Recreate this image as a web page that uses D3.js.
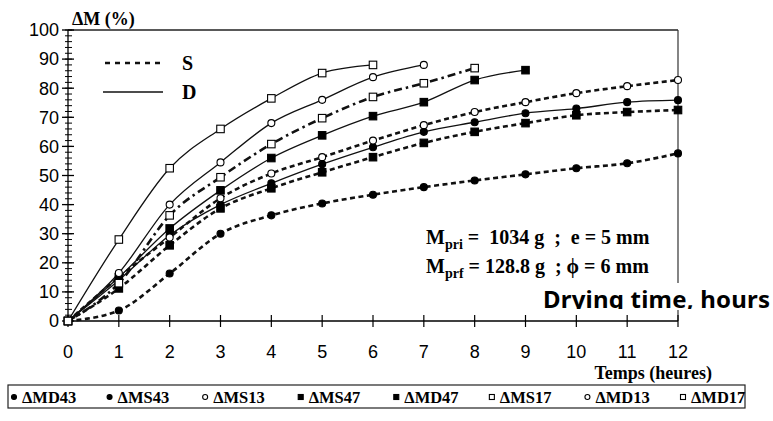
<!DOCTYPE html>
<html><head><meta charset="utf-8">
<script src="https://cdn.jsdelivr.net/npm/d3@7/dist/d3.min.js"></script>
<style>body{margin:0;background:#fff}svg{display:block}text{white-space:pre}</style>
</head><body>
<svg id="c" width="773" height="421"></svg>
<script>
// ---- data ----
const hours = [0,1,2,3,4,5,6,7,8,9,10,11,12];
const xTicks = [0,1,2,3,4,5,6,7,8,9,10,11,12];
const yTicks = [0,10,20,30,40,50,60,70,80,90,100];
const MD17 = [0, 28, 52.5, 66, 76.5, 85.2, 88];
const MD13 = [0, 16.5, 40, 54.5, 68, 76, 83.8, 88];
const MS17 = [0, 13, 36.3, 49.4, 60.8, 69.7, 77, 81.7, 86.9];
const MD47 = [0, 15, 31.8, 44.9, 56, 63.8, 70.4, 75.2, 82.8, 86.2];
const MS13 = [0, 15, 28.7, 42.2, 50.7, 56.3, 62, 67.3, 71.8, 75.2, 78.3, 80.7, 82.8];
const MD43 = [0, 14, 29.5, 40, 47.3, 53.9, 59.7, 65, 68.3, 71.4, 73, 75.2, 75.9];
const MS47 = [0, 11.2, 26, 38.7, 45.6, 51.1, 56.3, 61.2, 65, 68, 70.7, 71.8, 72.5];
const MS43 = [0, 3.6, 16.3, 30, 36.3, 40.4, 43.4, 46, 48.3, 50.4, 52.5, 54.2, 57.6];
const legendNames = ["ΔMD43","ΔMS43","ΔMS13","ΔMS47","ΔMD47","ΔMS17","ΔMD13","ΔMD17"];

const series = [
  {name:"ΔMS43", values:MS43, style:"S", marker:"circle", fill:"#000"},
  {name:"ΔMS47", values:MS47, style:"S", marker:"square", fill:"#000"},
  {name:"ΔMD43", values:MD43, style:"D", marker:"circle", fill:"#000"},
  {name:"ΔMS13", values:MS13, style:"S", marker:"circle", fill:"#fff"},
  {name:"ΔMD47", values:MD47, style:"D", marker:"square", fill:"#000"},
  {name:"ΔMS17", values:MS17, style:"DD", marker:"square", fill:"#fff"},
  {name:"ΔMD13", values:MD13, style:"D", marker:"circle", fill:"#fff"},
  {name:"ΔMD17", values:MD17, style:"D", marker:"square", fill:"#fff"}
];
const legendMarker = {"ΔMD43":["circle","#000"],"ΔMS43":["circle","#000"],"ΔMS13":["circle","#fff"],"ΔMS47":["square","#000"],"ΔMD47":["square","#000"],"ΔMS17":["square","#fff"],"ΔMD13":["circle","#fff"],"ΔMD17":["square","#fff"]};

const svg = d3.select("#c");
const x = d3.scaleLinear().domain([0,12]).range([68,678]);
const y = d3.scaleLinear().domain([0,100]).range([321,30]);
const serif = "'Liberation Serif','Times New Roman',serif";
const sans = "'Liberation Sans',Arial,sans-serif";

// frame
svg.append("line").attr("x1",x(0)).attr("x2",x(12)).attr("y1",y(100)).attr("y2",y(100)).attr("stroke","#222").attr("stroke-width",1.3);
svg.append("line").attr("x1",x(12)).attr("x2",x(12)).attr("y1",y(100)).attr("y2",y(0)).attr("stroke","#333").attr("stroke-width",1.2);

// y axis
const ya = svg.append("g").attr("transform",`translate(${x(0)},0)`);
ya.append("line").attr("y1",y(0)).attr("y2",y(100)).attr("stroke","#000").attr("stroke-width",1.3);
const minor = d3.range(0,100.1,2);
ya.selectAll("line.mn").data(minor).join("line").attr("class","mn")
  .attr("x1",-3).attr("x2",4).attr("y1",d=>y(d)).attr("y2",d=>y(d)).attr("stroke","#000").attr("stroke-width",1);
ya.selectAll("line.mj").data(yTicks).join("line").attr("class","mj")
  .attr("x1",-6).attr("x2",6).attr("y1",d=>y(d)).attr("y2",d=>y(d)).attr("stroke","#000").attr("stroke-width",1.3);
ya.selectAll("text").data(yTicks).join("text").attr("x",-9).attr("y",d=>y(d)).attr("dy","0.35em")
  .attr("text-anchor","end").attr("font-family",sans).attr("font-size",18).text(d=>d);

// x axis
const xa = svg.append("g").attr("transform",`translate(0,${y(0)})`);
xa.append("line").attr("x1",x(0)).attr("x2",x(12)).attr("stroke","#000").attr("stroke-width",1.3);
xa.selectAll("line.t").data(xTicks).join("line").attr("class","t")
  .attr("x1",d=>x(d)).attr("x2",d=>x(d)).attr("y1",-6).attr("y2",6).attr("stroke","#000").attr("stroke-width",1.2);
xa.selectAll("text").data(xTicks).join("text").attr("x",d=>x(d)).attr("y",37)
  .attr("text-anchor","middle").attr("font-family",sans).attr("font-size",18).text(d=>d);

svg.append("text").attr("x",72).attr("y",25).attr("font-family",serif).attr("font-weight","bold").attr("font-size",18).text("ΔM (%)");
svg.append("text").attr("x",x(12)+34).attr("y",379).attr("text-anchor","end").attr("font-family",serif).attr("font-weight","bold").attr("font-size",18).text("Temps (heures)");

// lines
const line = d3.line().x((d,i)=>x(hours[i])).y(d=>y(d)).curve(d3.curveMonotoneX);
const styleOf = s => s==="S" ? {w:2.6,dash:"5,3.5"} : s==="DD" ? {w:2.6,dash:"8,4,2.5,4"} : {w:1.3,dash:null};
series.forEach(s=>{
  const st = styleOf(s.style);
  svg.append("path").datum(s.values).attr("d",line).attr("fill","none").attr("stroke","#111")
    .attr("stroke-width",st.w).attr("stroke-dasharray",st.dash);
});
// markers
function marker(g, type, cx, cy, fill, size){
  if(type==="circle") g.append("circle").attr("cx",cx).attr("cy",cy).attr("r",size/2).attr("fill",fill).attr("stroke","#000").attr("stroke-width",1.1);
  else g.append("rect").attr("x",cx-size/2).attr("y",cy-size/2).attr("width",size).attr("height",size).attr("fill",fill).attr("stroke","#000").attr("stroke-width",1.1);
}
const mg = svg.append("g");
series.forEach(s=>{
  s.values.forEach((v,i)=>marker(mg, s.marker, x(hours[i]), y(v), s.fill, s.marker==="circle"?7:7.5));
});

// inner S / D legend
svg.append("line").attr("x1",105).attr("x2",163).attr("y1",63).attr("y2",63).attr("stroke","#111").attr("stroke-width",2.6).attr("stroke-dasharray","5,5");
svg.append("text").attr("x",182).attr("y",70).attr("font-family",serif).attr("font-weight","bold").attr("font-size",20).text("S");
svg.append("line").attr("x1",103).attr("x2",163).attr("y1",92).attr("y2",92).attr("stroke","#111").attr("stroke-width",1.4);
svg.append("text").attr("x",182).attr("y",99).attr("font-family",serif).attr("font-weight","bold").attr("font-size",20).text("D");

// annotation
function ann(yb, sub, rest){
  const t = svg.append("text").attr("x",426).attr("y",yb).attr("font-family",serif).attr("font-weight","bold").attr("font-size",20);
  t.append("tspan").text("M");
  t.append("tspan").attr("dy",5).attr("font-size",14).text(sub);
  t.append("tspan").attr("dy",-5).text(rest);
}
ann(244,"pri"," =  1034 g  ;  e = 5 mm");
ann(273,"prf"," = 128.8 g  ; ϕ = 6 mm");

// overlay "Drying time, hours"
const clip = svg.append("clipPath").attr("id","ck");
clip.append("rect").attr("x",540).attr("y",283).attr("width",233).attr("height",26);
svg.append("rect").attr("x",540).attr("y",283).attr("width",233).attr("height",27).attr("fill","#fff");
svg.append("text").attr("clip-path","url(#ck)").attr("x",543).attr("y",308).attr("font-family","'Noto Sans',sans-serif")
  .attr("font-weight","bold").attr("font-size",24).attr("textLength",227).text("Drying time, hours");

// bottom legend box
const lb = svg.append("g");
lb.append("rect").attr("x",8).attr("y",385).attr("width",737).attr("height",23).attr("fill","none").attr("stroke","#222").attr("stroke-width",1.2);
const lx = d3.scalePoint().domain(legendNames).range([14,683]);
legendNames.forEach(n=>{
  const [t,f] = legendMarker[n];
  marker(lb, t, lx(n), 397, f, 5);
  lb.append("text").attr("x",lx(n)+8).attr("y",403).attr("font-family",serif).attr("font-weight","bold").attr("font-size",16.5).text(n);
});
</script>
</body></html>
